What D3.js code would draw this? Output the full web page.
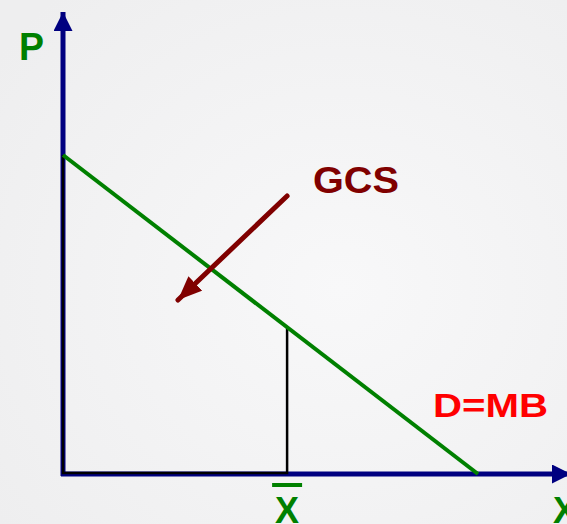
<!DOCTYPE html>
<html>
<head>
<meta charset="utf-8">
<script src="https://cdn.jsdelivr.net/npm/d3@7"></script>
<style>
  html, body { margin: 0; padding: 0; background: #f3f3f4; overflow: hidden; }
  svg { display: block; font-family: "Liberation Sans", Arial, sans-serif; font-weight: bold; }
</style>
</head>
<body>
<div id="chart"></div>
<script>
// demand curve D=MB (quantity, price)
const demandQ = [0, 10];
const demandP = [8.25, 0];
// chosen quantity X-bar
const xBar = 5.4;
// GCS arrow: from / to, in (q, p)
const arrowQ = [5.4, 2.77];
const arrowP = [7.19, 4.5];
// axis extents
const qMax = 12, pMax = 12;

const width = 567, height = 524;
const origin = { x: 63, y: 474 };

const svg = d3.select("#chart").append("svg")
    .attr("width", width)
    .attr("height", height);

const defs = svg.append("defs");
const bg = defs.append("radialGradient").attr("id", "bg")
    .attr("cx", "60%").attr("cy", "55%").attr("r", "75%");
bg.append("stop").attr("offset", "0%").attr("stop-color", "#f8f8f9");
bg.append("stop").attr("offset", "100%").attr("stop-color", "#eeeeef");
svg.append("rect").attr("width", width).attr("height", height).attr("fill", "url(#bg)");

const x = d3.scaleLinear().domain([0, qMax]).range([origin.x, 561]);
const y = d3.scaleLinear().domain([0, pMax]).range([origin.y, 10]);

// arrowheads
function marker(id, color, w, h) {
    defs.append("marker")
        .attr("id", id)
        .attr("viewBox", `0 0 ${w} ${h}`)
        .attr("refX", w).attr("refY", h / 2)
        .attr("markerWidth", w).attr("markerHeight", h)
        .attr("markerUnits", "userSpaceOnUse")
        .attr("orient", "auto")
        .append("path")
        .attr("d", `M0,0L${w},${h / 2}L0,${h}Z`)
        .attr("fill", color);
}
marker("axisHead", "#000080", 19, 19);
marker("gcsHead", "#800000", 24, 20);

// axes (no ticks, just the domain line with arrows)
const xAxis = svg.append("g")
    .attr("transform", `translate(0,${origin.y})`)
    .call(d3.axisBottom(x).ticks(0).tickSizeOuter(0));
xAxis.select(".domain").remove();
xAxis.append("line")
    .attr("x1", x(0) - 2).attr("x2", x(qMax) + 10)
    .attr("stroke", "#000080").attr("stroke-width", 5)
    .attr("marker-end", "url(#axisHead)");

const yAxis = svg.append("g")
    .attr("transform", `translate(${origin.x},0)`)
    .call(d3.axisLeft(y).ticks(0).tickSizeOuter(0));
yAxis.select(".domain").remove();
yAxis.append("line")
    .attr("y1", y(0) + 2).attr("y2", y(pMax) + 2)
    .attr("stroke", "#000080").attr("stroke-width", 5)
    .attr("marker-end", "url(#axisHead)");

// black outline of the area under demand up to X-bar
const pAtXBar = demandP[0] + (demandP[1] - demandP[0]) * (xBar - demandQ[0]) / (demandQ[1] - demandQ[0]);
svg.append("path")
    .attr("d", d3.line()([
        [x(0), y(demandP[0])],
        [x(0), y(0) - 1],
        [x(xBar), y(0) - 1],
        [x(xBar), y(pAtXBar)]
    ]))
    .attr("fill", "none")
    .attr("stroke", "#000")
    .attr("stroke-width", 2.5);

// demand line
svg.append("path")
    .datum(demandQ.map((q, i) => [q, demandP[i]]))
    .attr("d", d3.line().x(d => x(d[0])).y(d => y(d[1])))
    .attr("fill", "none")
    .attr("stroke", "#008000")
    .attr("stroke-width", 4);

// GCS arrow
svg.append("line")
    .attr("x1", x(arrowQ[0])).attr("y1", y(arrowP[0]))
    .attr("x2", x(arrowQ[1])).attr("y2", y(arrowP[1]))
    .attr("stroke", "#800000").attr("stroke-width", 5)
    .attr("stroke-linecap", "round")
    .attr("marker-end", "url(#gcsHead)");

// labels
svg.append("text").attr("x", 19).attr("y", 60)
    .attr("fill", "#008000").style("font-size", "38px")
    .attr("textLength", 25).attr("lengthAdjust", "spacingAndGlyphs").text("P");

svg.append("text").attr("x", 313).attr("y", 193)
    .attr("fill", "#800000").style("font-size", "37px")
    .attr("textLength", 86).attr("lengthAdjust", "spacingAndGlyphs").text("GCS");

svg.append("text").attr("x", 433).attr("y", 417)
    .attr("fill", "#ff0000").style("font-size", "34px")
    .attr("textLength", 115).attr("lengthAdjust", "spacingAndGlyphs").text("D=MB");

svg.append("text").attr("x", x(xBar)).attr("y", 523)
    .attr("text-anchor", "middle")
    .attr("fill", "#008000").style("font-size", "36px").text("X");
svg.append("line")
    .attr("x1", x(xBar) - 15).attr("x2", x(xBar) + 15)
    .attr("y1", 485).attr("y2", 485)
    .attr("stroke", "#008000").attr("stroke-width", 4);

svg.append("text").attr("x", 553).attr("y", 523)
    .attr("fill", "#008000").style("font-size", "36px").text("X");
</script>
</body>
</html>
